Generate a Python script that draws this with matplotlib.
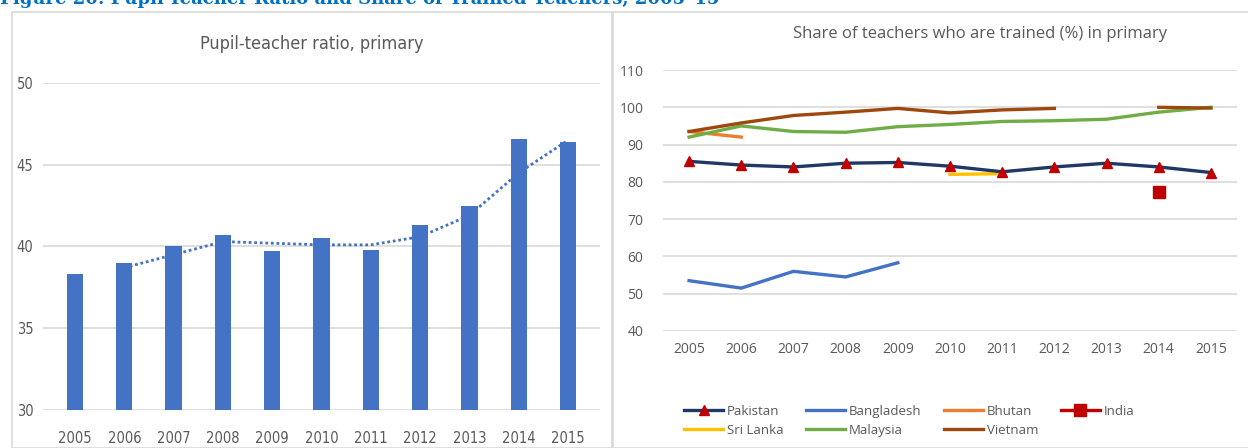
import matplotlib.pyplot as plt
from matplotlib.patches import Rectangle
import numpy as np

# Left panel: pupil-teacher ratio
years = [2005, 2006, 2007, 2008, 2009, 2010, 2011, 2012, 2013, 2014, 2015]
ptr = [38.3, 39.0, 40.0, 40.7, 39.7, 40.5, 39.8, 41.3, 42.5, 46.6, 46.4]
# dotted trend line (starts 2006)
ptr_trend = [38.7, 39.5, 40.3, 40.2, 40.1, 40.1, 40.6, 41.9, 44.5, 46.5]

# Right panel: share of trained teachers (%)
nan = np.nan
pakistan = [85.5, 84.5, 84.0, 85.0, 85.2, 84.2, 82.7, 84.0, 85.0, 84.0, 82.5]
bangladesh = [53.5, 51.5, 56.0, 54.5, 58.3, nan, nan, nan, nan, nan, nan]
bhutan = [93.5, 92.0, nan, nan, nan, nan, nan, nan, nan, nan, nan]
india = [nan, nan, nan, nan, nan, nan, nan, nan, nan, 77.2, nan]
sri_lanka = [nan, nan, nan, nan, nan, 82.0, 82.2, nan, nan, nan, nan]
malaysia = [92.0, 95.0, 93.5, 93.3, 94.8, 95.4, 96.2, 96.4, 96.8, 98.7, 100.0]
vietnam = [93.5, 95.8, 97.8, 98.7, 99.7, 98.5, 99.3, 99.7, nan, 100.0, 99.8]

W, H = 1248, 448
fig = plt.figure(figsize=(W / 100, H / 100), dpi=100)

grid_c = '#D9D9D9'
txt_c = '#595959'
wide = ['Open Sans', 'DejaVu Sans']

# cut-off caption at the very top
fig.text(0.0, 1 - 4 / H, 'Figure 20: Pupil-Teacher Ratio and Share of Trained Teachers, 2005\u201315',
         fontsize=13, fontweight='bold', family='DejaVu Serif', color='#0070C0',
         va='baseline', ha='left')

# panel frames
fig.patches.append(Rectangle((12 / W, 0), 600 / W, 1 - 12 / H,
                             transform=fig.transFigure, fill=False, edgecolor=grid_c, lw=1.2))
fig.patches.append(Rectangle((613 / W, 0), 640 / W, 1 - 12 / H,
                             transform=fig.transFigure, fill=False, edgecolor=grid_c, lw=1.2))

# ---- left chart
ax1 = fig.add_axes([43 / W, 1 - 410 / H, 557 / W, 327 / H])
x = np.arange(len(years))
ax1.bar(x, ptr, width=0.33, color='#4472C4', zorder=3)
ax1.plot(x[1:], ptr_trend, linestyle=(0, (1, 1)), color='#4472C4', lw=2, zorder=4)
ax1.set_ylim(30, 50)
ax1.set_xlim(-0.65, 10.65)
ax1.set_yticks([30, 35, 40, 45, 50])
ax1.set_xticks(x)
ax1.set_xticklabels([str(y) for y in years])
ax1.yaxis.grid(True, color=grid_c, lw=1.2, zorder=0)
for s in ax1.spines.values():
    s.set_visible(False)
ax1.tick_params(length=0, labelcolor=txt_c, labelsize=10.5, pad=15)
ax1.tick_params(axis='y', pad=7)
for lab in ax1.get_xticklabels() + ax1.get_yticklabels():
    lab.set_family('DejaVu Sans')
    lab.set_stretch('condensed')
fig.text(312 / W, 1 - 44 / H, 'Pupil-teacher ratio, primary', ha='center', va='center',
         fontsize=13, color=txt_c, family='DejaVu Sans', stretch='condensed')

# ---- right chart
ax2 = fig.add_axes([663 / W, 1 - 331 / H, 574 / W, 261 / H])
lw = 2.4
ax2.plot(years, pakistan, color='#203864', lw=lw, marker='^', markersize=7,
         markerfacecolor='#C00000', markeredgecolor='#C00000', label='Pakistan', zorder=5)
ax2.plot(years, bangladesh, color='#4472C4', lw=lw, label='Bangladesh')
ax2.plot(years, bhutan, color='#ED7D31', lw=lw, label='Bhutan')
ax2.plot(years, india, color='#C00000', lw=lw, marker='s', markersize=9, label='India')
ax2.plot(years, sri_lanka, color='#FFC000', lw=lw, label='Sri Lanka', zorder=4)
ax2.plot(years, malaysia, color='#70AD47', lw=lw, label='Malaysia')
ax2.plot(years, vietnam, color='#9E480E', lw=lw, label='Vietnam')
ax2.set_ylim(40, 110)
ax2.set_xlim(2004.5, 2015.5)
ax2.set_yticks(range(40, 111, 10))
ax2.set_xticks(years)
ax2.yaxis.grid(True, color=grid_c, lw=1.2, zorder=0)
ax2.set_axisbelow(True)
for s in ax2.spines.values():
    s.set_visible(False)
ax2.tick_params(length=0, labelcolor=txt_c, labelsize=10, pad=8)
ax2.tick_params(axis='y', pad=14)
for lab in ax2.get_xticklabels() + ax2.get_yticklabels():
    lab.set_family(wide)
fig.text(980 / W, 1 - 34 / H, 'Share of teachers who are trained (%) in primary', ha='center',
         va='center', fontsize=12, color=txt_c, family=wide)

h, l = ax2.get_legend_handles_labels()
order = [0, 4, 1, 5, 2, 6, 3]
leg = fig.legend([h[i] for i in order], [l[i] for i in order], ncol=4,
                 loc='upper left', bbox_to_anchor=(672 / W, 1 - 393 / H),
                 frameon=False, handlelength=3, handletextpad=0.25,
                 columnspacing=1.7, labelspacing=0.45, prop={'family': wide, 'size': 9.5})
for t in leg.get_texts():
    t.set_color(txt_c)

plt.savefig('out.png', dpi=100)
